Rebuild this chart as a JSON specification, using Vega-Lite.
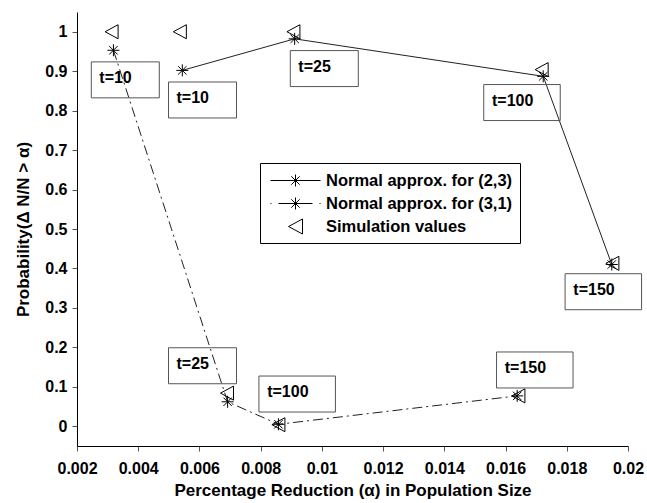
{
  "$schema": "https://vega.github.io/schema/vega-lite/v6.json",
  "width": 551,
  "height": 434,
  "autosize": "none",
  "padding": {"left": 77, "top": 12, "right": 19, "bottom": 57},
  "background": "white",
  "config": {
    "view": {"stroke": null},
    "font": "Liberation Sans",
    "axis": {
      "grid": false,
      "labelFont": "Liberation Sans",
      "labelFontSize": 16,
      "labelFontWeight": "bold",
      "labelColor": "black",
      "labelFlush": false,
      "labelOverlap": false,
      "titleFont": "Liberation Sans",
      "titleFontSize": 17,
      "titleFontWeight": "bold",
      "titleColor": "black",
      "domainColor": "black",
      "domainWidth": 1,
      "tickColor": "#555",
      "tickSize": 5,
      "tickWidth": 1
    }
  },
  "datasets": {
    "pts": [
      {"series": "Normal approx. for (2,3)", "x": 0.00544, "y": 0.902},
      {"series": "Normal approx. for (2,3)", "x": 0.00911, "y": 0.982},
      {"series": "Normal approx. for (2,3)", "x": 0.01723, "y": 0.887},
      {"series": "Normal approx. for (2,3)", "x": 0.01947, "y": 0.41},
      {"series": "Normal approx. for (3,1)", "x": 0.00319, "y": 0.953},
      {"series": "Normal approx. for (3,1)", "x": 0.00692, "y": 0.062},
      {"series": "Normal approx. for (3,1)", "x": 0.00858, "y": 0.005},
      {"series": "Normal approx. for (3,1)", "x": 0.01638, "y": 0.077},
      {"series": "Simulation values", "x": 0.00313, "y": 1.0},
      {"series": "Simulation values", "x": 0.00536, "y": 1.0},
      {"series": "Simulation values", "x": 0.00907, "y": 1.0},
      {"series": "Simulation values", "x": 0.01718, "y": 0.904},
      {"series": "Simulation values", "x": 0.01949, "y": 0.413},
      {"series": "Simulation values", "x": 0.0069, "y": 0.084},
      {"series": "Simulation values", "x": 0.00858, "y": 0.004},
      {"series": "Simulation values", "x": 0.01642, "y": 0.077}
    ],
    "labels": [
      {"label": "t=10", "x": 0.003578, "y": 0.878},
      {"label": "t=10", "x": 0.0061, "y": 0.827},
      {"label": "t=25", "x": 0.010079, "y": 0.9066},
      {"label": "t=100", "x": 0.016537, "y": 0.8205},
      {"label": "t=150", "x": 0.019194, "y": 0.341},
      {"label": "t=25", "x": 0.0061, "y": 0.1534},
      {"label": "t=100", "x": 0.009193, "y": 0.0817},
      {"label": "t=150", "x": 0.016955, "y": 0.1427}
    ]
  },
  "encoding": {
    "x": {
      "field": "x",
      "type": "quantitative",
      "scale": {"domain": [0.002, 0.02], "nice": false, "zero": false},
      "axis": {
        "values": [0.002, 0.004, 0.006, 0.008, 0.01, 0.012, 0.014, 0.016, 0.018, 0.02],
        "format": "~g",
        "labelPadding": 9,
        "titlePadding": 6,
        "title": "Percentage Reduction (α) in Population Size"
      }
    },
    "y": {
      "field": "y",
      "type": "quantitative",
      "scale": {"domain": [-0.05, 1.05], "nice": false, "zero": false},
      "axis": {
        "values": [0, 0.1, 0.2, 0.3, 0.4, 0.5, 0.6, 0.7, 0.8, 0.9, 1],
        "format": "~g",
        "labelPadding": 5,
        "titlePadding": 12,
        "title": "Probability(Δ N/N > α)"
      }
    }
  },
  "layer": [
    {
      "data": {"name": "pts"},
      "transform": [{"filter": "datum.series === 'Normal approx. for (2,3)'"}],
      "mark": {"type": "line", "color": "#222", "strokeWidth": 1}
    },
    {
      "data": {"name": "pts"},
      "transform": [{"filter": "datum.series === 'Normal approx. for (3,1)'"}],
      "mark": {"type": "line", "color": "#222", "strokeWidth": 1, "strokeDash": [10, 4, 2, 4]}
    },
    {
      "data": {"name": "pts"},
      "transform": [{"filter": "datum.series !== 'Simulation values'"}],
      "mark": {"type": "point", "filled": false, "color": "black", "strokeWidth": 1, "size": 144, "opacity": 1,
               "shape": "M0,-1L0,1M-1,0L1,0M-0.7,-0.7L0.7,0.7M-0.7,0.7L0.7,-0.7"}
    },
    {
      "data": {"name": "pts"},
      "transform": [{"filter": "datum.series === 'Simulation values'"}],
      "mark": {"type": "point", "filled": false, "color": "black", "strokeWidth": 1, "size": 169, "opacity": 1,
               "shape": "M1,-1.08L-1,0L1,1.08Z"}
    },
    {
      "data": {"name": "pts"},
      "transform": [{"filter": "false"}],
      "mark": {"type": "point", "filled": false, "color": "black", "strokeWidth": 1},
      "encoding": {
        "shape": {
          "field": "series",
          "type": "nominal",
          "scale": {
            "domain": ["Normal approx. for (2,3)", "Normal approx. for (3,1)", "Simulation values"],
            "range": [
              "M-2.5,0L2.5,0M0,-0.6L0,0.6M-0.6,0L0.6,0M-0.42,-0.42L0.42,0.42M-0.42,0.42L0.42,-0.42",
              "M-2.5,0L-2.4,0M-1.7,0L1.7,0M2.4,0L2.5,0M0,-0.6L0,0.6M-0.6,0L0.6,0M-0.42,-0.42L0.42,0.42M-0.42,0.42L0.42,-0.42",
              "M0.7,-0.75L-0.7,0L0.7,0.75Z"
            ]
          },
          "legend": {
            "orient": "none",
            "legendX": 183,
            "legendY": 151,
            "title": null,
            "strokeColor": "black",
            "fillColor": "white",
            "padding": 7,
            "symbolSize": 400,
            "symbolOffset": 18,
            "symbolStrokeWidth": 1,
            "symbolStrokeColor": "black",
            "symbolFillColor": "transparent",
            "symbolOpacity": 1,
            "labelFont": "Liberation Sans",
            "labelFontSize": 16.5,
            "labelFontWeight": "bold",
            "labelColor": "black",
            "labelOffset": 20,
            "labelLimit": 0,
            "rowPadding": 4
          }
        }
      }
    },
    {
      "data": {"name": "labels"},
      "mark": {"type": "point", "filled": false, "color": "#555", "strokeWidth": 1, "opacity": 1},
      "encoding": {
        "shape": {
          "condition": {"test": "length(datum.label) > 4", "value": "M-1,-0.4706L1,-0.4706L1,0.4706L-1,0.4706Z"},
          "value": "M-1,-0.529L1,-0.529L1,0.529L-1,0.529Z"
        },
        "size": {
          "condition": {"test": "length(datum.label) > 4", "value": 5852},
          "value": 4624
        }
      }
    },
    {
      "data": {"name": "labels"},
      "transform": [{"filter": "length(datum.label) <= 4"}],
      "mark": {"type": "text", "align": "left", "baseline": "alphabetic", "dx": -26, "dy": 3, "font": "Liberation Sans", "fontSize": 16, "fontWeight": "bold", "color": "black"},
      "encoding": {"text": {"field": "label"}}
    },
    {
      "data": {"name": "labels"},
      "transform": [{"filter": "length(datum.label) > 4"}],
      "mark": {"type": "text", "align": "left", "baseline": "alphabetic", "dx": -30, "dy": 3, "font": "Liberation Sans", "fontSize": 16, "fontWeight": "bold", "color": "black"},
      "encoding": {"text": {"field": "label"}}
    }
  ]
}
